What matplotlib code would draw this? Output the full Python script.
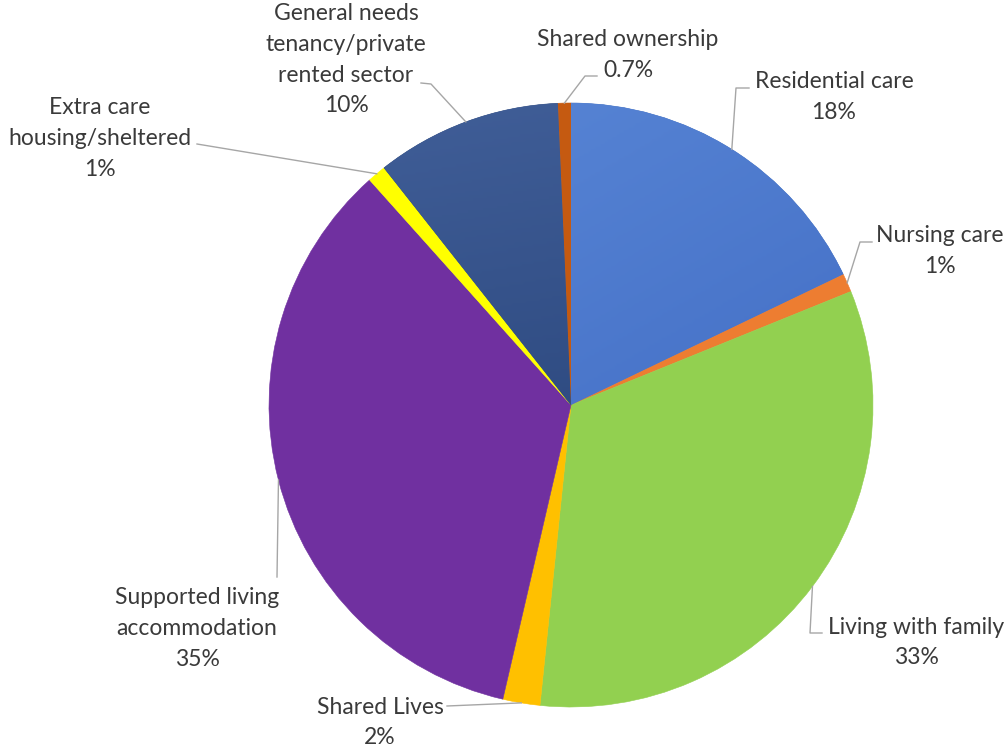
import numpy as np
import matplotlib.pyplot as plt
from matplotlib.colors import LinearSegmentedColormap

# Accommodation type shares (clockwise from 12 o'clock)
categories = [
    'Residential care',
    'Nursing care',
    'Living with family',
    'Shared Lives',
    'Supported living\naccommodation',
    'Extra care\nhousing/sheltered',
    'General needs\ntenancy/private\nrented sector',
    'Shared ownership',
]
shares = [18, 1, 33, 2, 35, 1, 10, 0.7]
colors = ['#4472C4', '#ED7D31', '#92D050', '#FFC000',
          '#7030A0', '#FFFF00', '#2F4B80', '#C55A11']

W, H = 1006, 747
CX, CY, R = 571, 405, 302

# label block: centre x, first line y, leader path (pixel points after the pie edge)
label_pos = [
    (834, 82, [(736, 88), (749, 88)]),
    (940, 236, [(860, 242), (872, 242)]),
    (916, 627, [(810, 633), (822, 633)]),
    (380, 707, [(447, 706)]),
    (197, 598, [(277, 577)]),
    (100, 108, [(197, 144)]),
    (346, 14, [(431, 84), (421, 83)]),
    (628, 40, [(585, 76), (597, 76)]),
]
LINE_STEP = 30.5
TEXT_COLOR = '#3A3A3A'
LEADER_COLOR = '#A6A6A6'

plt.rcParams['font.family'] = ['Lato', 'DejaVu Sans']

fig = plt.figure(figsize=(W / 100, H / 100), dpi=100)
ax = fig.add_axes([0, 0, 1, 1])


def py(y):
    # pixel row (top-down) to data y (bottom-up)
    return H - y


wedges, _ = ax.pie(shares, colors=colors, startangle=90, counterclock=False,
                   center=(CX, py(CY)), radius=R,
                   wedgeprops=dict(linewidth=0.4))
for w in wedges:
    w.set_edgecolor(w.get_facecolor())
ax.set_xlim(0, W)
ax.set_ylim(0, H)
ax.set_aspect('equal')
ax.axis('off')


def shade(wedge, c_top, c_bottom, angle_deg):
    # soft linear gradient clipped to one wedge
    cmap = LinearSegmentedColormap.from_list('g', [c_top, c_bottom])
    n = 256
    xx, yy = np.meshgrid(np.linspace(0, 1, n), np.linspace(1, 0, n))
    a = np.deg2rad(angle_deg)
    g = xx * np.cos(a) + (1 - yy) * np.sin(a)
    g = (g - g.min()) / (g.max() - g.min())
    im = ax.imshow(g, cmap=cmap, origin='upper',
                   extent=(CX - R, CX + R, py(CY + R), py(CY - R)),
                   zorder=wedge.get_zorder() + 0.1, interpolation='bilinear')
    im.set_clip_path(wedge)


shade(wedges[0], '#5B89D8', '#3A64BE', 60)
shade(wedges[6], '#415F99', '#1E396C', 80)

for wedge, name, v, (lx, ly, path) in zip(wedges, categories, shares, label_pos):
    mid = np.deg2rad((wedge.theta1 + wedge.theta2) / 2)
    ex = CX + R * np.cos(mid)
    ey = py(CY) + R * np.sin(mid)
    xs = [ex] + [p[0] for p in path]
    ys = [ey] + [py(p[1]) for p in path]
    ax.plot(xs, ys, color=LEADER_COLOR, lw=1.0, zorder=5)

    lines = name.split('\n') + [f'{v:g}%']
    for i, line in enumerate(lines):
        ax.text(lx, py(ly + i * LINE_STEP), line, ha='center', va='center',
                fontsize=16.5, color=TEXT_COLOR, zorder=6)

fig.savefig('out.png', dpi=100)
